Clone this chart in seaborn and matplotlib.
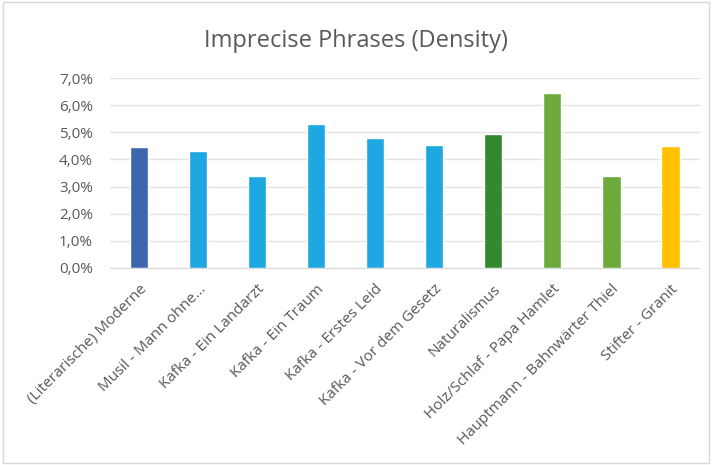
import matplotlib
matplotlib.use("Agg")
import matplotlib.pyplot as plt
import matplotlib.patches as mpatches
from matplotlib.ticker import FuncFormatter
import seaborn as sns
import pandas as pd

categories = ["(Literarische) Moderne", "Musil - Mann ohne...", "Kafka - Ein Landarzt",
              "Kafka - Ein Traum", "Kafka - Erstes Leid", "Kafka - Vor dem Gesetz",
              "Naturalismus", "Holz/Schlaf - Papa Hamlet", "Hauptmann - Bahnwärter Thiel",
              "Stifter - Granit"]
density = [4.47, 4.31, 3.39, 5.31, 4.80, 4.52, 4.93, 6.44, 3.39, 4.51]
bar_colors = ["#3F65AF", "#1FA7E1", "#1FA7E1", "#1FA7E1", "#1FA7E1", "#1FA7E1",
              "#318A2E", "#6CAA3C", "#6CAA3C", "#FFC000"]

df = pd.DataFrame({"text": categories, "density": density})

sns.set_style("white")
plt.rcParams["font.family"] = ["Open Sans", "DejaVu Sans"]

fig = plt.figure(figsize=(7.12, 4.65), dpi=100)
ax = fig.add_axes([0.154, 0.424, 0.829, 0.408])

sns.barplot(data=df, x="text", y="density", hue="text",
            palette=dict(zip(categories, bar_colors)), legend=False,
            width=0.31, saturation=1, ax=ax)

ax.set_ylim(0, 7)
ax.set_yticks(range(0, 8))
ax.yaxis.set_major_formatter(FuncFormatter(lambda v, _: f"{v:.1f}%".replace(".", ",")))
ax.grid(axis="y", color="#E3E3E3", linewidth=1)
ax.set_axisbelow(True)
for s in ["top", "right", "left"]:
    ax.spines[s].set_visible(False)
ax.spines["bottom"].set_color("#D9D9D9")
ax.set_xlabel("")
ax.set_ylabel("")
ax.tick_params(axis="y", length=0, labelsize=11, colors="#595959", pad=12)
ax.tick_params(axis="x", length=0, labelsize=11, colors="#595959", pad=10)
plt.setp(ax.get_xticklabels(), rotation=45, ha="right", rotation_mode="anchor")

fig.text(0.5, 0.912, "Imprecise Phrases (Density)", ha="center", va="center",
         fontsize=17, color="#595959")

# thin frame around the chart area
fig.patches.append(mpatches.Rectangle((0.004, 0.004), 0.992, 0.992, transform=fig.transFigure,
                                      fill=False, edgecolor="#D9D9D9", linewidth=1))

fig.savefig("out.png", dpi=100)
